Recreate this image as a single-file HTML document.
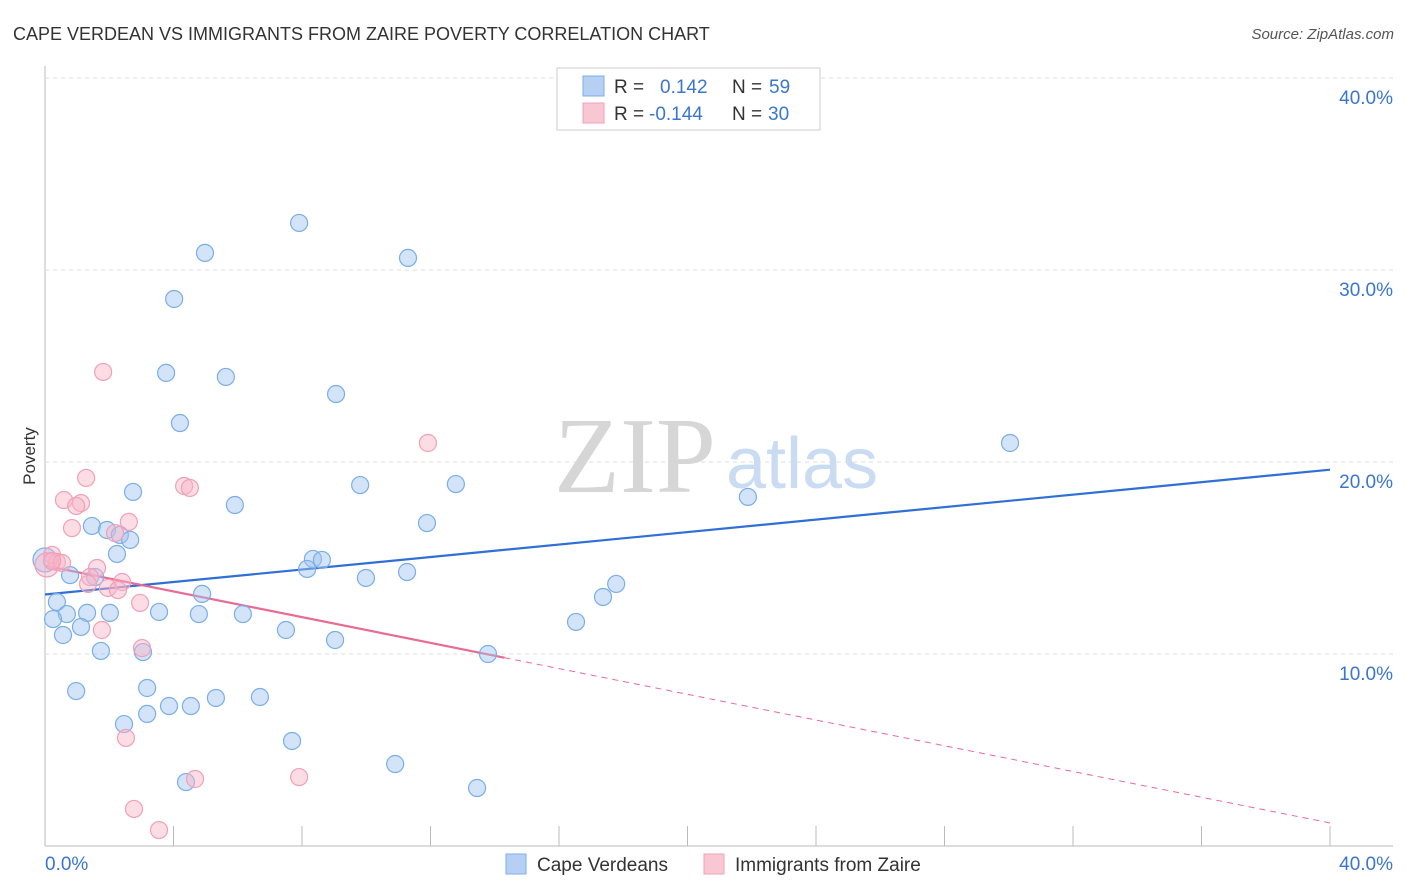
<!DOCTYPE html>
<html><head><meta charset="utf-8"><style>
body{margin:0;background:#fff;font-family:"Liberation Sans",sans-serif;}
svg{display:block}
</style></head><body>
<svg id="chart" width="1406" height="892">
<text x="13" y="40" font-size="18" fill="#333">CAPE VERDEAN VS IMMIGRANTS FROM ZAIRE POVERTY CORRELATION CHART</text>
<text x="1394" y="39" font-size="15" fill="#555" font-style="italic" text-anchor="end">Source: ZipAtlas.com</text>
<text x="35" y="456" font-size="17" fill="#333" transform="rotate(-90 35 456)" text-anchor="middle">Poverty</text>
<g id="grid"></g>
<g><text x="635" y="492" font-size="108" font-family="Liberation Serif,serif" fill="#d6d6d6" text-anchor="middle">ZIP</text><text x="802" y="488" font-size="72" fill="#c9dcf2" text-anchor="middle">atlas</text></g>
<g id="trends"></g>
<g id="pts"></g>
<g>
<rect x="557" y="68" width="263" height="62" fill="#fff" stroke="#ccc"/>
<rect x="583" y="76" width="21" height="20" fill="#b5d0f3" stroke="#7aaee8"/>
<rect x="583" y="103" width="21" height="20" fill="#f9c6d4" stroke="#f0a0b8"/>
<text x="614" y="93" font-size="19" fill="#333">R = <tspan fill="#3a76d0" x="660">0.142</tspan><tspan fill="#333" x="732">N = </tspan><tspan fill="#3a76d0" x="769">59</tspan></text>
<text x="614" y="120" font-size="19" fill="#333">R = <tspan fill="#3a76d0" x="649">-0.144</tspan><tspan fill="#333" x="732">N = </tspan><tspan fill="#3a76d0" x="768">30</tspan></text>
</g>
<g>
<rect x="506" y="854" width="20" height="20" fill="#b5d0f3" stroke="#7aaee8"/>
<text x="537" y="871" font-size="19" fill="#333">Cape Verdeans</text>
<rect x="704" y="854" width="20" height="20" fill="#f9c6d4" stroke="#f0a0b8"/>
<text x="735" y="871" font-size="19" fill="#333">Immigrants from Zaire</text>
</g>
</svg>
<script>
const xTicks=[0,4,8,12,16,20,24,28,32,36,40];
const yTicks=[10,20,30,40];
const yTickLabels=["10.0%","20.0%","30.0%","40.0%"];
const xLabels=["0.0%","40.0%"];
const blueX=[7.91,4.98,11.30,4.02,3.77,5.63,9.06,4.20,30.04,9.81,12.79,2.74,21.88,5.91,11.89,1.46,1.93,2.33,2.65,2.24,8.34,8.62,8.16,0,0.78,1.56,11.27,9.99,17.78,17.37,4.89,0.37,0.68,1.31,2.02,3.55,4.79,6.16,0.25,1.12,7.50,16.53,0.56,9.03,1.74,3.05,13.79,0.97,3.18,5.32,6.69,3.86,4.54,3.18,2.46,7.69,10.90,4.39,13.45];
const blueY=[32.45,30.89,30.63,28.49,24.64,24.43,23.54,22.03,20.99,18.80,18.85,18.44,18.18,17.76,16.82,16.67,16.46,16.20,15.94,15.21,14.95,14.90,14.43,14.9,14.11,14.01,14.27,13.96,13.65,12.97,13.13,12.71,12.08,12.14,12.14,12.19,12.08,12.08,11.82,11.41,11.25,11.67,10.99,10.73,10.16,10.10,10.00,8.07,8.23,7.71,7.76,7.29,7.29,6.88,6.35,5.47,4.27,3.33,3.02];
const pinkX=[1.81,11.92,1.28,4.33,4.51,0.59,1.12,0.97,2.61,0.84,2.18,0.22,0.37,0.06,1.62,0.53,1.40,2.40,1.34,1.96,2.27,2.96,1.77,3.02,2.52,4.67,7.91,2.77,3.55,0.22];
const pinkY=[24.69,20.99,19.17,18.75,18.65,18.02,17.86,17.71,16.88,16.56,16.30,15.16,14.79,14.64,14.48,14.74,14.01,13.75,13.65,13.44,13.33,12.66,11.25,10.31,5.63,3.49,3.59,1.93,0.83,14.84];
const blueTrend=[13.1,19.6];
const pinkTrend=[14.6,1.2];
const pinkSolidEnd=14.3;
const sx=v=>45+v/40*1285, sy=v=>846-v*19.2;
const NS="http://www.w3.org/2000/svg";
function mk(tag,attrs,parent){const e=document.createElementNS(NS,tag);for(const k in attrs)e.setAttribute(k,attrs[k]);document.getElementById(parent).appendChild(e);return e;}
let e;
e=mk('line',{x1:45,y1:66,x2:45,y2:846,stroke:'#bbb'},'grid');


e=mk('line',{x1:45,y1:846,x2:1393,y2:846,stroke:'#bbb'},'grid');


yTicks.forEach((t,i)=>{
 e=mk('line',{x1:45,y1:sy(t),x2:1393,y2:sy(t),stroke:'#ddd','stroke-dasharray':'4,4'},'grid');
 
 
 e=mk('text',{x:1393,y:sy(t)+26,'font-size':19,fill:'#3a76d0','text-anchor':'end'},'grid');
 e.textContent=yTickLabels[i];
 
 
});
xTicks.forEach(t=>{
 e=mk('line',{x1:sx(t),y1:826,x2:sx(t),y2:846,stroke:'#bbb'},'grid');
 
 
});
e=mk('text',{x:45,y:870,'font-size':19,fill:'#3a76d0'},'grid');e.textContent=xLabels[0];


e=mk('text',{x:1393,y:870,'font-size':19,fill:'#3a76d0','text-anchor':'end'},'grid');e.textContent=xLabels[1];


function pts(X,Y,fill,stroke,name){X.forEach((x,i)=>{
 e=mk('circle',{cx:sx(x),cy:sy(Y[i]),r:(x===0||x===0.06)?12:8.5,fill:fill,stroke:stroke,'stroke-width':1.2},'pts');
 
 
});}
pts(blueX,blueY,'rgba(160,196,240,0.45)','#7aaee8','cape-verdean-point');
pts(pinkX,pinkY,'rgba(248,180,200,0.45)','#f0a0b8','zaire-point');
e=mk('line',{x1:sx(0),y1:sy(blueTrend[0]),x2:sx(40),y2:sy(blueTrend[1]),stroke:'#2f6fd6','stroke-width':2.2},'trends');


const py=x=>pinkTrend[0]+(pinkTrend[1]-pinkTrend[0])*x/40;
e=mk('line',{x1:sx(0),y1:sy(py(0)),x2:sx(pinkSolidEnd),y2:sy(py(pinkSolidEnd)),stroke:'#ea6a94','stroke-width':2.2},'trends');


e=mk('line',{x1:sx(pinkSolidEnd),y1:sy(py(pinkSolidEnd)),x2:sx(40),y2:sy(py(40)),stroke:'#ea6a94','stroke-width':1,'stroke-dasharray':'6,5'},'trends');


</script>
</body></html>
